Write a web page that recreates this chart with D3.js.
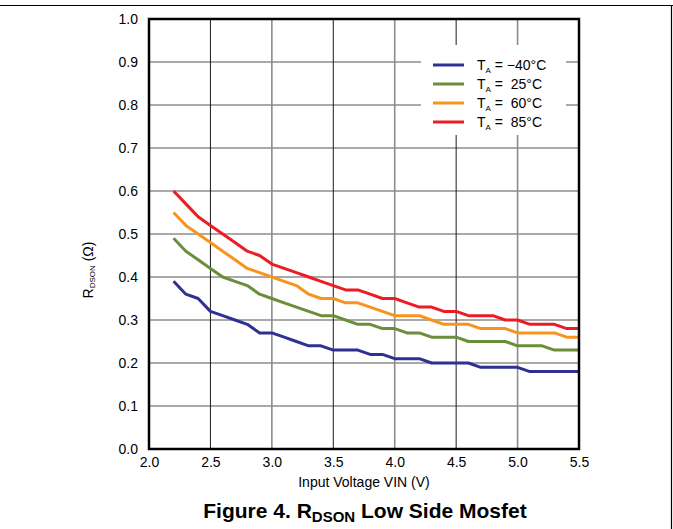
<!DOCTYPE html>
<html><head><meta charset="utf-8">
<script src="https://cdn.jsdelivr.net/npm/d3@7"></script>
<style>body{margin:0;background:#fff}svg{display:block;font-family:Arial,"Liberation Sans",sans-serif}</style>
</head><body>
<svg id="c" width="673" height="529"></svg>
<script>
const vin = [2.2,2.3,2.4,2.5,2.6,2.7,2.8,2.9,3.0,3.1,3.2,3.3,3.4,3.5,3.6,3.7,3.8,3.9,4.0,4.1,4.2,4.3,4.4,4.5,4.6,4.7,4.8,4.9,5.0,5.1,5.2,5.3,5.4,5.5];
const rM40 = [0.39,0.36,0.35,0.32,0.31,0.30,0.29,0.27,0.27,0.26,0.25,0.24,0.24,0.23,0.23,0.23,0.22,0.22,0.21,0.21,0.21,0.20,0.20,0.20,0.20,0.19,0.19,0.19,0.19,0.18,0.18,0.18,0.18,0.18];
const r25 = [0.49,0.46,0.44,0.42,0.40,0.39,0.38,0.36,0.35,0.34,0.33,0.32,0.31,0.31,0.30,0.29,0.29,0.28,0.28,0.27,0.27,0.26,0.26,0.26,0.25,0.25,0.25,0.25,0.24,0.24,0.24,0.23,0.23,0.23];
const r60 = [0.55,0.52,0.50,0.48,0.46,0.44,0.42,0.41,0.40,0.39,0.38,0.36,0.35,0.35,0.34,0.34,0.33,0.32,0.31,0.31,0.31,0.30,0.29,0.29,0.29,0.28,0.28,0.28,0.27,0.27,0.27,0.27,0.26,0.26];
const r85 = [0.60,0.57,0.54,0.52,0.50,0.48,0.46,0.45,0.43,0.42,0.41,0.40,0.39,0.38,0.37,0.37,0.36,0.35,0.35,0.34,0.33,0.33,0.32,0.32,0.31,0.31,0.31,0.30,0.30,0.29,0.29,0.29,0.28,0.28];
const seriesNames = ["\u221240\u00B0C"," 25\u00B0C"," 60\u00B0C"," 85\u00B0C"];
const seriesValues = [rM40, r25, r60, r85];
const colors = ["#2e3192","#6b8e3a","#f7941d","#ed1c24"];
const xTicks = [2.0,2.5,3.0,3.5,4.0,4.5,5.0,5.5];
const yTicks = [0.0,0.1,0.2,0.3,0.4,0.5,0.6,0.7,0.8,0.9,1.0];

const svg = d3.select("#c");
const L=149, R=579, T=19, B=449;
const x = d3.scaleLinear().domain([2.0,5.5]).range([L,R]);
const y = d3.scaleLinear().domain([0,1.0]).range([B,T]);

// page frame
svg.append("line").attr("x1",0).attr("x2",673).attr("y1",5.5).attr("y2",5.5).attr("stroke","#000").attr("stroke-width",1.2);
svg.append("line").attr("x1",671.5).attr("x2",671.5).attr("y1",5).attr("y2",529).attr("stroke","#000").attr("stroke-width",1.2);

// grid
const g = svg.append("g");
g.selectAll(".hg").data(yTicks.slice(1,-1)).join("line")
  .attr("x1",L).attr("x2",R).attr("y1",d=>y(d)).attr("y2",d=>y(d))
  .attr("stroke","#8c8c8c").attr("stroke-width",1.6);
g.selectAll(".vg").data(xTicks.slice(1,-1)).join("line")
  .attr("x1",d=>x(d)).attr("x2",d=>x(d)).attr("y1",T).attr("y2",B)
  .attr("stroke",(d,i)=> i%2===0 ? "#1a1a1a" : "#8c8c8c")
  .attr("stroke-width",(d,i)=> i%2===0 ? 1 : 1.6);

// legend background
svg.append("rect").attr("x",421).attr("y",45).attr("width",145).attr("height",90).attr("fill","#fff");

// lines
const line = d3.line().x((d,i)=>x(vin[i])).y(d=>y(d));
seriesValues.forEach((s,k)=>{
  svg.append("path").datum(s).attr("d",line).attr("fill","none")
    .attr("stroke",colors[k]).attr("stroke-width",3).attr("stroke-linejoin","round");
});

// plot border
svg.append("rect").attr("x",L).attr("y",T).attr("width",R-L).attr("height",B-T)
  .attr("fill","none").attr("stroke","#000").attr("stroke-width",2.5);

// axes labels
const xa = d3.axisBottom(x).tickValues(xTicks).tickFormat(d3.format(".1f")).tickSize(0).tickPadding(8);
const xg = svg.append("g").attr("transform",`translate(0,${B})`).call(xa);
xg.select(".domain").remove();
xg.selectAll("text").attr("font-size",14).attr("fill","#000").attr("font-family","Arial, Liberation Sans, sans-serif");
const ya = d3.axisLeft(y).tickValues(yTicks).tickFormat(d3.format(".1f")).tickSize(0).tickPadding(11);
const yg = svg.append("g").attr("transform",`translate(${L},0)`).call(ya);
yg.select(".domain").remove();
yg.selectAll("text").attr("font-size",14).attr("fill","#000").attr("font-family","Arial, Liberation Sans, sans-serif");

svg.append("text").attr("x",364).attr("y",487).attr("text-anchor","middle").attr("font-size",14).text("Input Voltage VIN (V)");

const yt = svg.append("text").attr("transform","translate(93,270) rotate(-90)").attr("text-anchor","middle").attr("font-size",14);
yt.append("tspan").text("R");
yt.append("tspan").attr("font-size",8).attr("dy",2).text("DSON");
yt.append("tspan").attr("dy",-2).text(" (\u03A9)");

// legend
const lg = svg.append("g");
seriesNames.forEach((n,k)=>{
  const yy = 65 + k*19;
  lg.append("line").attr("x1",433).attr("x2",464).attr("y1",yy).attr("y2",yy).attr("stroke",colors[k]).attr("stroke-width",3);
  const t = lg.append("text").attr("x",477).attr("y",yy+5).attr("font-size",14);
  t.append("tspan").text("T");
  t.append("tspan").attr("font-size",8).attr("dy",3).text("A");
  t.append("tspan").attr("dy",-3).attr("xml:space","preserve").text(" = " + n);
});

// caption
const cap = svg.append("text").attr("x",365).attr("y",518).attr("text-anchor","middle").attr("font-size",21).attr("font-weight","bold");
cap.append("tspan").text("Figure 4. R");
cap.append("tspan").attr("font-size",15).attr("dy",4).text("DSON");
cap.append("tspan").attr("dy",-4).text(" Low Side Mosfet");
</script>
</body></html>
